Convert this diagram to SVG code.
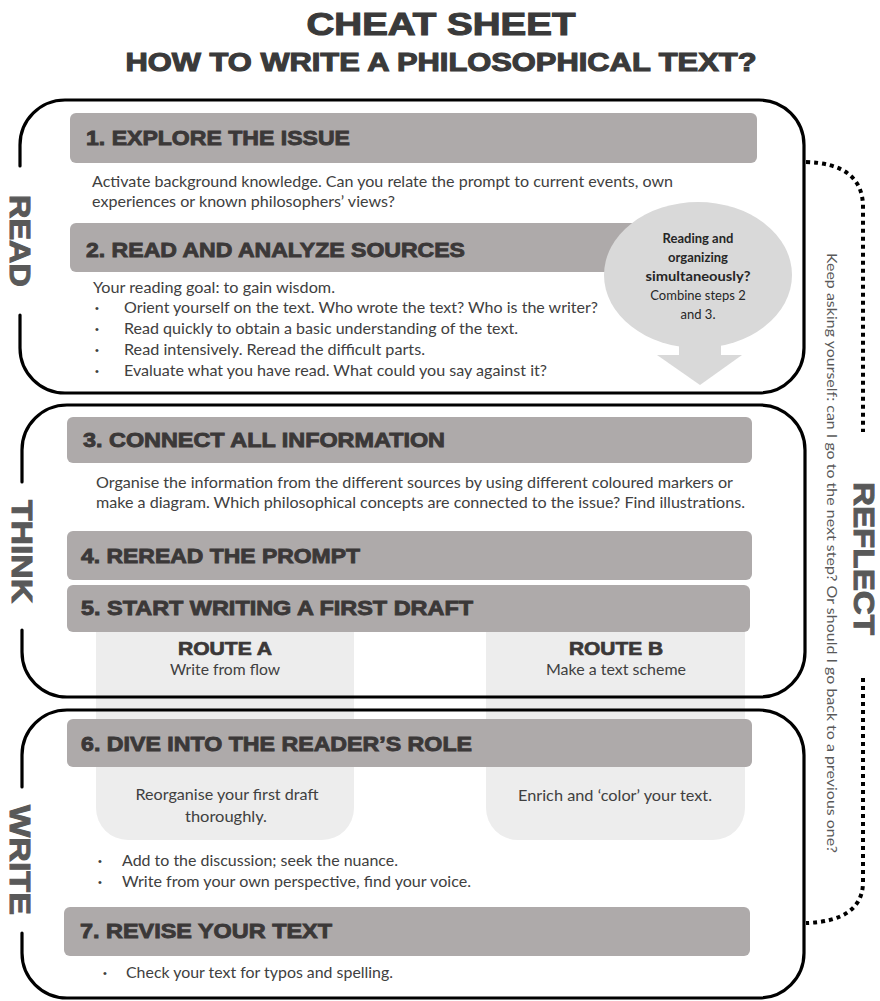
<svg xmlns="http://www.w3.org/2000/svg" width="880" height="1001" viewBox="0 0 880 1001">
  <style>
    .title { font-family: "Liberation Sans", Arial, sans-serif; font-weight: bold; fill: #3a3a3a; stroke: #3a3a3a; stroke-width: 1.1; }
    .hdr { fill: #aeaaaa; }
    .hdrtxt { font-family: "Liberation Sans", Arial, sans-serif; font-weight: bold; font-size: 21px; fill: #3b3838; stroke: #3b3838; stroke-width: 0.9; }
    .body { font-family: Lato, "Open Sans", sans-serif; font-size: 15px; fill: #404040; }
    .bullet { font-family: "Liberation Sans", Arial, sans-serif; font-size: 11px; fill: #404040; }
    .bub { font-family: Lato, "Open Sans", sans-serif; font-size: 13px; fill: #262626; text-anchor: middle; }
    .route { font-family: "Liberation Sans", Arial, sans-serif; font-weight: bold; font-size: 18px; fill: #3b3838; stroke: #3b3838; stroke-width: 0.7; text-anchor: middle; }
    .panel { fill: #ededed; }
    .frame { fill: none; stroke: #000; stroke-width: 3.2; stroke-linecap: round; }
    .side { font-family: "Liberation Sans", Arial, sans-serif; font-weight: bold; font-size: 30px; fill: #595959; stroke: #595959; stroke-width: 1; }
    .dots { fill: none; stroke: #000; stroke-width: 4; stroke-dasharray: 4 4; }
    .mid { text-anchor: middle; }
  </style>

  <!-- Title -->
  <g id="title">
    <text class="title" x="441" y="35" font-size="32" text-anchor="middle" textLength="269" lengthAdjust="spacingAndGlyphs">CHEAT SHEET</text>
    <text class="title" x="441" y="71" font-size="26" text-anchor="middle" textLength="631" lengthAdjust="spacingAndGlyphs">HOW TO WRITE A PHILOSOPHICAL TEXT?</text>
  </g>

  <!-- Route columns running behind steps 5 and 6 -->
  <g id="route-panels">
    <path class="panel" d="M96,615 L354,615 L354,808 A32,32 0 0 1 322,840 L128,840 A32,32 0 0 1 96,808 Z"/>
    <path class="panel" d="M486,615 L745,615 L745,808 A32,32 0 0 1 713,840 L518,840 A32,32 0 0 1 486,808 Z"/>
  </g>

  <!-- READ phase -->
  <g id="read">
    <rect class="hdr" x="70" y="113" width="687" height="50" rx="6"/>
    <text class="hdrtxt" x="86" y="145" textLength="264" lengthAdjust="spacingAndGlyphs">1. EXPLORE THE ISSUE</text>
    <text class="body" x="92" y="187" textLength="581" lengthAdjust="spacingAndGlyphs">Activate background knowledge. Can you relate the prompt to current events, own</text>
    <text class="body" x="92" y="207" textLength="303" lengthAdjust="spacingAndGlyphs">experiences or known philosophers’ views?</text>
    <rect class="hdr" x="70" y="223" width="640" height="49" rx="6"/>
    <text class="hdrtxt" x="86" y="257" textLength="379" lengthAdjust="spacingAndGlyphs">2. READ AND ANALYZE SOURCES</text>
    <text class="body" x="93" y="293" textLength="242" lengthAdjust="spacingAndGlyphs">Your reading goal: to gain wisdom.</text>
    <g class="bullet">
      <text x="95" y="312">•</text>
      <text x="95" y="333">•</text>
      <text x="95" y="354">•</text>
      <text x="95" y="375">•</text>
    </g>
    <g class="body">
      <text x="124" y="313" textLength="474" lengthAdjust="spacingAndGlyphs">Orient yourself on the text. Who wrote the text? Who is the writer?</text>
      <text x="124" y="334" textLength="394" lengthAdjust="spacingAndGlyphs">Read quickly to obtain a basic understanding of the text.</text>
      <text x="124" y="355" textLength="301" lengthAdjust="spacingAndGlyphs">Read intensively. Reread the difficult parts.</text>
      <text x="124" y="376" textLength="423" lengthAdjust="spacingAndGlyphs">Evaluate what you have read. What could you say against it?</text>
    </g>
  </g>

  <!-- Callout bubble pointing down to step 3 -->
  <g id="callout">
    <ellipse cx="698" cy="275" rx="94" ry="73" fill="#d9d9d9"/>
    <rect x="679" y="330" width="42" height="28" fill="#d9d9d9"/>
    <polygon points="657,355 742,355 700,385" fill="#d9d9d9"/>
    <text class="bub" x="698" y="243" font-weight="bold">Reading and</text>
    <text class="bub" x="698" y="262" font-weight="bold">organizing</text>
    <text class="bub" x="698" y="281" font-weight="bold" textLength="105" lengthAdjust="spacingAndGlyphs">simultaneously?</text>
    <text class="bub" x="698" y="300">Combine steps 2</text>
    <text class="bub" x="698" y="319">and 3.</text>
  </g>

  <!-- THINK phase -->
  <g id="think">
    <rect class="hdr" x="67" y="417" width="685" height="46" rx="6"/>
    <text class="hdrtxt" x="83" y="447" textLength="362" lengthAdjust="spacingAndGlyphs">3. CONNECT ALL INFORMATION</text>
    <text class="body" x="96" y="488" textLength="637" lengthAdjust="spacingAndGlyphs">Organise the information from the different sources by using different coloured markers or</text>
    <text class="body" x="96" y="508" textLength="649" lengthAdjust="spacingAndGlyphs">make a diagram. Which philosophical concepts are connected to the issue? Find illustrations.</text>
    <rect class="hdr" x="67" y="531" width="685" height="49" rx="6"/>
    <text class="hdrtxt" x="81" y="563" textLength="279" lengthAdjust="spacingAndGlyphs">4. REREAD THE PROMPT</text>
    <rect class="hdr" x="67" y="585" width="683" height="47" rx="6"/>
    <text class="hdrtxt" x="81" y="615" textLength="392" lengthAdjust="spacingAndGlyphs">5. START WRITING A FIRST DRAFT</text>
  </g>

  <g id="route-a">
    <text class="route" x="225" y="655" textLength="94" lengthAdjust="spacingAndGlyphs">ROUTE A</text>
    <text class="body mid" x="225" y="675" textLength="110" lengthAdjust="spacingAndGlyphs">Write from flow</text>
    <text class="body mid" x="227" y="800" textLength="183" lengthAdjust="spacingAndGlyphs">Reorganise your first draft</text>
    <text class="body mid" x="226" y="822" textLength="82" lengthAdjust="spacingAndGlyphs">thoroughly.</text>
  </g>

  <g id="route-b">
    <text class="route" x="616" y="655" textLength="94" lengthAdjust="spacingAndGlyphs">ROUTE B</text>
    <text class="body mid" x="616" y="675" textLength="140" lengthAdjust="spacingAndGlyphs">Make a text scheme</text>
    <text class="body mid" x="615" y="801" textLength="194" lengthAdjust="spacingAndGlyphs">Enrich and ‘color’ your text.</text>
  </g>

  <!-- WRITE phase -->
  <g id="write">
    <rect class="hdr" x="67" y="719" width="685" height="48" rx="6"/>
    <text class="hdrtxt" x="81" y="751" textLength="391" lengthAdjust="spacingAndGlyphs">6. DIVE INTO THE READER’S ROLE</text>
    <g class="bullet">
      <text x="98" y="865">•</text>
      <text x="98" y="886">•</text>
      <text x="103" y="977">•</text>
    </g>
    <g class="body">
      <text x="122" y="866" textLength="276" lengthAdjust="spacingAndGlyphs">Add to the discussion; seek the nuance.</text>
      <text x="122" y="887" textLength="349" lengthAdjust="spacingAndGlyphs">Write from your own perspective, find your voice.</text>
    </g>
    <rect class="hdr" x="64" y="907" width="686" height="49" rx="6"/>
    <text class="hdrtxt" x="80" y="938" textLength="252" lengthAdjust="spacingAndGlyphs">7. REVISE YOUR TEXT</text>
    <text class="body" x="126" y="978" textLength="267" lengthAdjust="spacingAndGlyphs">Check your text for typos and spelling.</text>
  </g>

  <!-- Phase frames with a gap on the left for the phase name -->
  <g id="frames">
    <path class="frame" d="M20,166 L20,145 A45,45 0 0 1 65,100 L759,100 A45,45 0 0 1 804,145 L804,348 A45,45 0 0 1 759,393 L65,393 A45,45 0 0 1 20,348 L20,315"/>
    <path class="frame" d="M22,482 L22,450 A45,45 0 0 1 67,405 L760,405 A45,45 0 0 1 805,450 L805,652 A45,45 0 0 1 760,697 L67,697 A45,45 0 0 1 22,652 L22,630"/>
    <path class="frame" d="M22,787 L22,755 A45,45 0 0 1 67,710 L759,710 A45,45 0 0 1 804,755 L804,953 A45,45 0 0 1 759,998 L67,998 A45,45 0 0 1 22,953 L22,933"/>
  </g>

  <!-- Phase names, reading downwards -->
  <g id="labels">
    <text class="side" transform="translate(10,195) rotate(90)" textLength="92" lengthAdjust="spacingAndGlyphs">READ</text>
    <text class="side" transform="translate(12,500) rotate(90)" textLength="103" lengthAdjust="spacingAndGlyphs">THINK</text>
    <text class="side" transform="translate(10,805) rotate(90)" textLength="110" lengthAdjust="spacingAndGlyphs">WRITE</text>
  </g>

  <!-- Reflect loop -->
  <g id="connectors">
    <path class="dots" d="M806,162 C842,163 863,177 863,207 L863,432"/>
    <path class="dots" d="M863,678 L863,882 C863,908 843,922 806,923"/>
  </g>

  <g id="reflect">
    <text class="side" transform="translate(854,482) rotate(90)" textLength="153" lengthAdjust="spacingAndGlyphs">REFLECT</text>
    <text transform="translate(827,253) rotate(90)" font-family="Lato, 'Open Sans', sans-serif" font-size="14" fill="#595959" textLength="600" lengthAdjust="spacingAndGlyphs">Keep asking yourself: can I go to the next step? Or should I go back to a previous one?</text>
  </g>
</svg>
